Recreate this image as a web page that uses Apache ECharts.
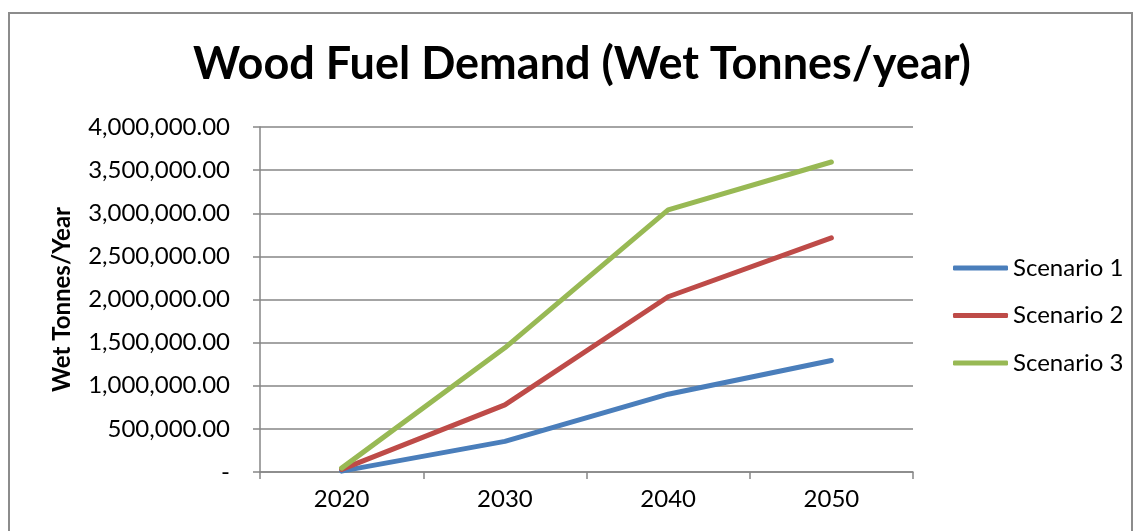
<!DOCTYPE html>
<html>
<head>
    <meta charset="utf-8">
    <title>Wood Fuel Demand</title>
    <script src="https://cdn.jsdelivr.net/npm/echarts@6.0.0/dist/echarts.min.js"></script>
    <style>
        html, body { margin: 0; padding: 0; background: #fff; }
        #chart {
            position: absolute;
            left: 8px;
            top: 12px;
            width: 1125px;
            height: 530px;
            border: 2px solid #8c8c8c;
            border-bottom: none;
            box-sizing: border-box;
        }
    </style>
</head>
<body>
    <div id="chart"></div>
    <script>
        // data
        const years = ['2020', '2030', '2040', '2050'];
        const scenario1 = [10000, 355000, 902000, 1292000];
        const scenario2 = [30000, 778000, 2032000, 2714000];
        const scenario3 = [45000, 1440000, 3040000, 3594000];
        const seriesNames = ['Scenario 1', 'Scenario 2', 'Scenario 3'];
        const seriesColors = ['#4a7ebb', '#be4b48', '#98b954'];

        const font = 'Lato, "Open Sans", sans-serif';

        function fmt(v) {
            if (v === 0) return '-';
            return v.toLocaleString('en-US', { minimumFractionDigits: 2, maximumFractionDigits: 2 });
        }

        const chart = echarts.init(document.getElementById('chart'));
        const allData = [scenario1, scenario2, scenario3];

        chart.setOption({
            animation: false,
            title: {
                text: 'Wood Fuel Demand (Wet Tonnes/year)',
                left: 178,
                top: 23,
                textStyle: { fontFamily: font, fontSize: 45, fontWeight: 'bold', color: '#000' }
            },
            legend: {
                orient: 'vertical',
                left: 938,
                top: 237,
                itemWidth: 55,
                itemHeight: 5,
                itemGap: 23.5,
                icon: 'roundRect',
                textStyle: { fontFamily: font, fontSize: 24, lineHeight: 24, color: '#000' },
                data: seriesNames
            },
            grid: { left: 250, top: 113, width: 653, height: 345 },
            xAxis: {
                type: 'category',
                data: years,
                boundaryGap: true,
                axisLine: { lineStyle: { color: '#868686', width: 1.5 } },
                axisTick: { show: true, length: 7, lineStyle: { color: '#868686', width: 1.5 } },
                axisLabel: { fontFamily: font, fontSize: 24, color: '#000', margin: 15 }
            },
            yAxis: {
                type: 'value',
                min: 0,
                max: 4000000,
                interval: 500000,
                name: 'Wet Tonnes/Year',
                nameLocation: 'middle',
                nameGap: 186,
                nameTextStyle: { fontFamily: font, fontSize: 24, fontWeight: 'bold', color: '#000' },
                axisLine: { show: true, lineStyle: { color: '#868686', width: 1.5 } },
                axisTick: { show: true, length: 7, lineStyle: { color: '#868686', width: 1.5 } },
                axisLabel: { fontFamily: font, fontSize: 24, color: '#000', margin: 30, formatter: fmt },
                splitLine: { lineStyle: { color: '#868686', width: 1.5 } }
            },
            series: seriesNames.map((name, i) => ({
                name: name,
                type: 'line',
                data: allData[i],
                symbol: 'none',
                lineStyle: { width: 5, color: seriesColors[i], cap: 'round' },
                itemStyle: { color: seriesColors[i] }
            }))
        });
    </script>
</body>
</html>
